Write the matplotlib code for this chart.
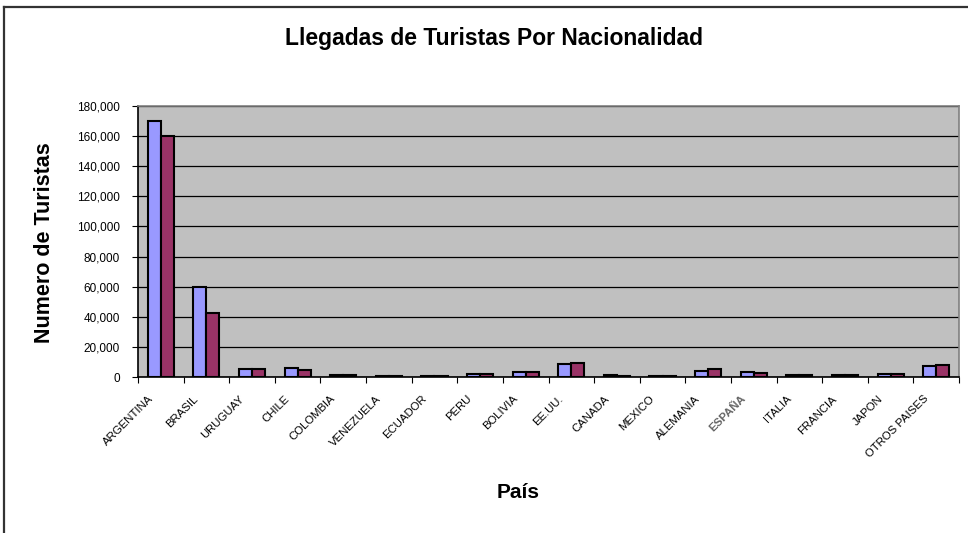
import matplotlib
matplotlib.use('Agg')
import matplotlib.pyplot as plt
from matplotlib.ticker import FuncFormatter, FixedLocator
from matplotlib.lines import Line2D
from matplotlib.transforms import ScaledTranslation
import numpy as np

plt.rcParams['font.family'] = ['Liberation Sans', 'DejaVu Sans']

paises = ['ARGENTINA', 'BRASIL', 'URUGUAY', 'CHILE', 'COLOMBIA', 'VENEZUELA',
          'ECUADOR', 'PERU', 'BOLIVIA', 'EE.UU.', 'CANADA', 'MEXICO',
          'ALEMANIA', 'ESPAÑA', 'ITALIA', 'FRANCIA', 'JAPON', 'OTROS PAISES']
serie_1 = [170000, 59800, 5600, 6000, 1000, 600, 600, 1800, 3200, 8900,
           1000, 700, 4000, 3300, 1500, 1500, 2000, 7300]
serie_2 = [160200, 42800, 5100, 4600, 1000, 500, 600, 1800, 3200, 9300,
           900, 700, 5000, 2800, 1200, 1400, 2000, 8000]

W, H = 968, 533
fig = plt.figure(figsize=(W / 100, H / 100), dpi=100)

# marco exterior (linea superior e izquierda)
fig.add_artist(Line2D([4 / W, 1], [1 - 7 / H, 1 - 7 / H], color='#333333', lw=1.6))
fig.add_artist(Line2D([4 / W, 4 / W], [0, 1 - 7 / H], color='#333333', lw=1.6))

left, right, top, bottom = 138, 959, 106, 377
ax = fig.add_axes([left / W, 1 - bottom / H, (right - left) / W, (bottom - top) / H])
ax.set_facecolor('#C0C0C0')

x = np.arange(len(paises))
ancho = 1 / 3.5
ax.bar(x - ancho / 2, serie_1, ancho, color='#9999FF', edgecolor='black', linewidth=1.5, zorder=3)
ax.bar(x + ancho / 2, serie_2, ancho, color='#993366', edgecolor='black', linewidth=1.5, zorder=3)

ax.set_xlim(-0.5, len(paises) - 0.5)
ax.set_ylim(0, 180000)
ax.yaxis.set_major_locator(FixedLocator(np.arange(0, 180001, 20000)))
ax.yaxis.set_major_formatter(FuncFormatter(lambda v, p: f'{int(v):,}'))
ax.grid(axis='y', color='black', linewidth=0.9, zorder=1)
ax.set_axisbelow(True)

ax.spines['left'].set_color('black')
ax.spines['bottom'].set_color('black')
ax.spines['top'].set_color('#808080')
ax.spines['right'].set_color('#808080')
for s in ax.spines.values():
    s.set_linewidth(1.2)

ax.set_xticks(np.arange(-0.5, len(paises), 1))
ax.set_xticklabels([])
ax.set_xticks(x, minor=True)
ax.set_xticklabels(paises, minor=True, rotation=45, ha='right', fontsize=8.2)
ax.tick_params(axis='x', which='minor', length=0, pad=12)
ax.tick_params(axis='x', which='major', length=4, direction='out', color='black')
ax.tick_params(axis='y', length=4, direction='out', labelsize=8.5, pad=9)
desplaza = ScaledTranslation(-0.06, 0, fig.dpi_scale_trans)
for lbl in ax.get_xticklabels(minor=True):
    lbl.set_transform(lbl.get_transform() + desplaza)
    if lbl.get_text() == 'ESPAÑA':
        lbl.set_color('#666666')
        lbl.set_fontweight('bold')

fig.text(494 / W, 1 - 38 / H, 'Llegadas de Turistas Por Nacionalidad',
         ha='center', va='center', fontsize=16.5, fontweight='bold')
fig.text(45 / W, 1 - 243 / H, 'Numero de Turistas', rotation=90,
         ha='center', va='center', fontsize=15.5, fontweight='bold')
fig.text(518 / W, 1 - 493 / H, 'País', ha='center', va='center',
         fontsize=15, fontweight='bold')

fig.savefig('out.png', dpi=100)
